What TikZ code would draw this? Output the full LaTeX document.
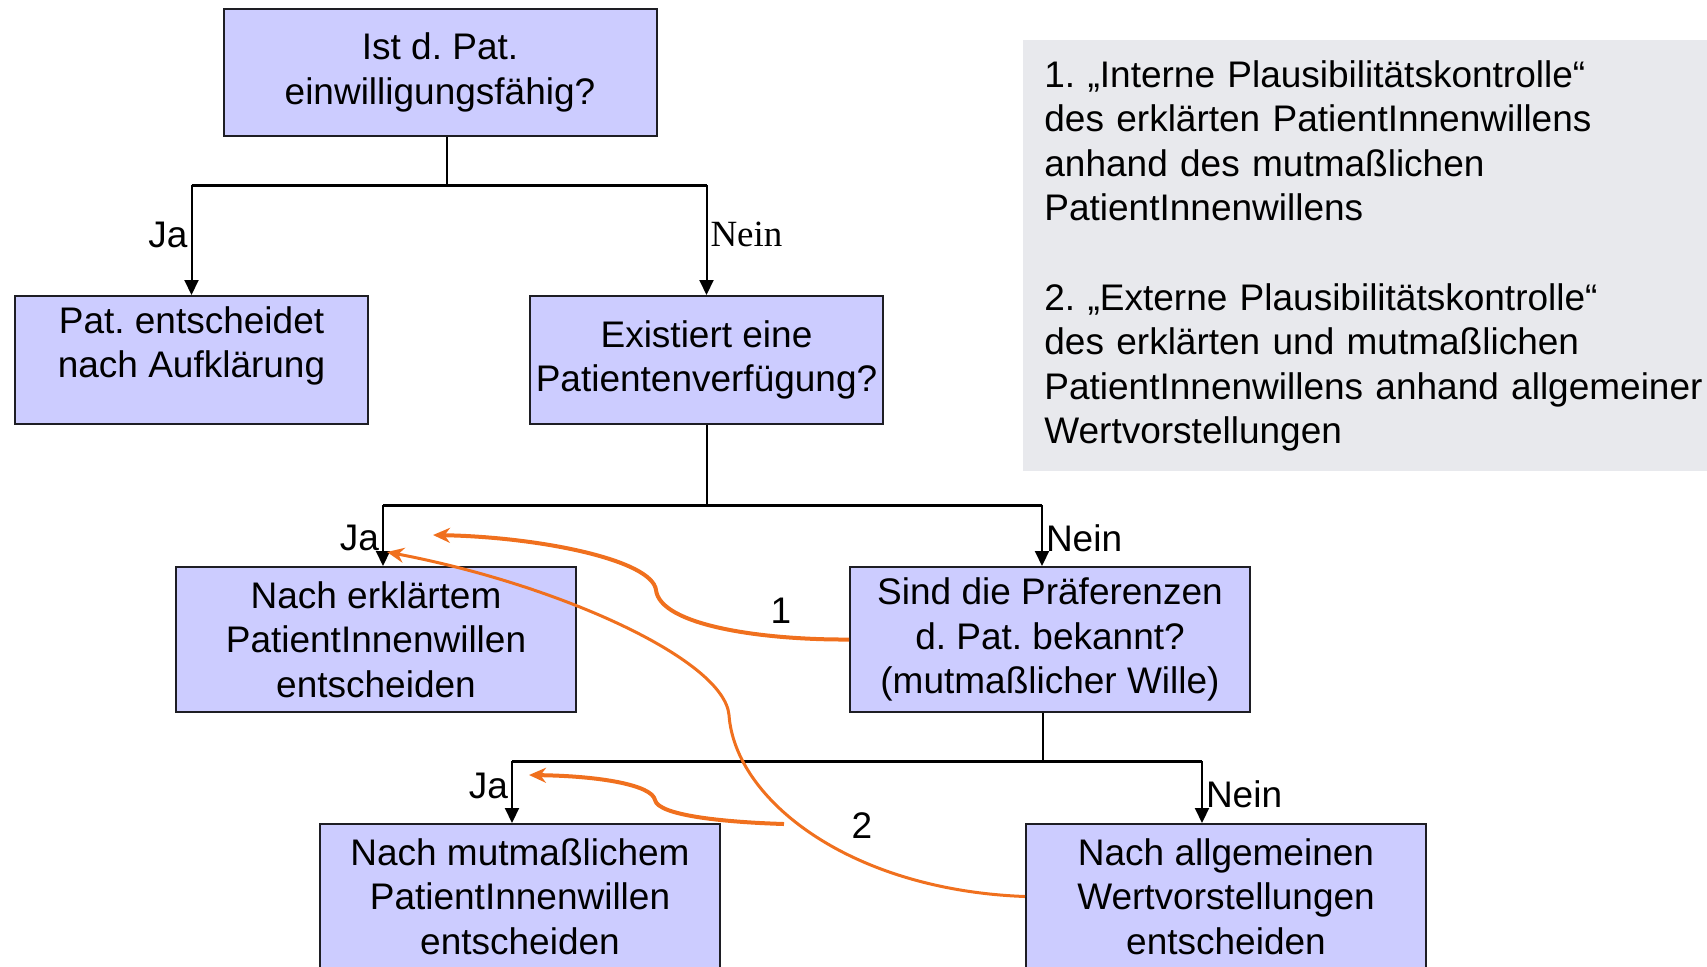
\documentclass[tikz,border=0pt]{standalone}
\usepackage{fontspec}
\setmainfont{Liberation Sans}
\newfontfamily\timesfont{Liberation Serif}
\usetikzlibrary{arrows.meta, positioning, calc}
\definecolor{Lila}{HTML}{CCCCFF}
\definecolor{Rahmen}{HTML}{1E1E24}
\definecolor{Grau}{HTML}{E8E9ED}
\definecolor{Orange}{HTML}{F0701E}
\frenchspacing

\begin{document}
\begin{tikzpicture}[
            x=0.5pt, y=0.5pt,
            font=\fontsize{18.5pt}{22.3pt}\selectfont,
            frage/.style={
                rectangle,
                draw=Rahmen,
                fill=Lila,
                line width=1pt,
                minimum width=200pt,
                minimum height=72.5pt,
                inner sep=1pt,
                align=center
            },
            hinweis/.style={
                rectangle,
                fill=Grau,
                minimum width=360pt,
                minimum height=215.5pt,
                text width=339pt,
                inner xsep=10.5pt,
                align=left,
                anchor=north west
            },
            linie/.style={line width=1pt},
            balken/.style={line width=1.5pt},
            pfeil/.style={-{Triangle[length=7.5pt, width=7pt]}, line width=1pt},
            kontrolle/.style={-{Stealth[length=8.5pt, width=7.5pt]}, line width=2pt, color=Orange},
            marke/.style={inner sep=1.5pt}
        ]
            \useasboundingbox (0,0) rectangle (1707,-966);
            \clip (0,0) rectangle (1707,-966);

            % Erlaeuterung rechts oben
            \node[hinweis] (legende) at (1023,-40) {1. „Interne Plausibilitätskontrolle“\\
                des erklärten PatientInnenwillens\\
                anhand des mutmaßlichen\\
                PatientInnenwillens\\[22.3pt]
                2. „Externe Plausibilitätskontrolle“\\
                des erklärten und mutmaßlichen\\
                PatientInnenwillens anhand allgemeiner\\
                Wertvorstellungen};

            % Entscheidungsbaum
            \node[frage, minimum width=216.5pt, minimum height=63.5pt] (einw) at (440,-72.5) {Ist d. Pat.\\einwilligungsfähig?};
            \node[frage, minimum width=176.5pt, minimum height=64pt] (aufkl) at (191.5,-360) {Pat. entscheidet\\nach Aufklärung\rule[-18pt]{0pt}{18pt}};
            \node[frage, minimum width=176.5pt, minimum height=64pt, right=80pt of aufkl] (patv) {Existiert eine\\Patientenverfügung?};
            \node[frage] (erkl) at (376,-639.5) {Nach erklärtem\\PatientInnenwillen\\entscheiden};
            \node[frage, right=136pt of erkl] (praef) {Sind die Präferenzen\\d. Pat. bekannt?\\(mutmaßlicher Wille)};
            \node[frage] (mutm) at (520,-896.5) {Nach mutmaßlichem\\PatientInnenwillen\\entscheiden};
            \node[frage, right=152pt of mutm] (allg) {Nach allgemeinen\\Wertvorstellungen\\entscheiden};

            % Verzweigungen
            \draw[linie] ([xshift=3.5pt]einw.south) -- ++(0,-48) coordinate (gabel1);
            \draw[balken] (aufkl.north |- gabel1) -- (patv.north |- gabel1);
            \draw[pfeil] (aufkl.north |- gabel1) -- node[marke, left, pos=0.45]{Ja} (aufkl.north);
            \draw[pfeil] (patv.north |- gabel1) -- node[marke, right, pos=0.45, font=\timesfont\fontsize{18.5pt}{22.3pt}\selectfont]{Nein} (patv.north);

            \coordinate (ja2) at ([xshift=3.5pt]erkl.north);
            \coordinate (nein2) at ([xshift=-4pt]praef.north);
            \draw[linie] (patv.south) -- ++(0,-80) coordinate (gabel2);
            \draw[balken] (ja2 |- gabel2) -- (nein2 |- gabel2);
            \draw[pfeil] (ja2 |- gabel2) -- node[marke, left, pos=0.54]{Ja} (ja2);
            \draw[pfeil] (nein2 |- gabel2) -- node[marke, right, pos=0.54]{Nein} (nein2);

            \coordinate (ja3) at ([xshift=-4pt]mutm.north);
            \coordinate (nein3) at ([xshift=-12pt]allg.north);
            \draw[linie] ([xshift=-3.5pt]praef.south) -- ++(0,-48) coordinate (gabel3);
            \draw[balken] (ja3 |- gabel3) -- (nein3 |- gabel3);
            \draw[pfeil] (ja3 |- gabel3) -- node[marke, left, pos=0.4]{Ja} (ja3);
            \draw[pfeil] (nein3 |- gabel3) -- node[marke, right, pos=0.53]{Nein} (nein3);

            % Plausibilitaetskontrollen
            \coordinate (ziel1) at (433,-535);
            \coordinate (ziel2) at (387,-552);
            \coordinate (quelle3) at (784,-824);
            \coordinate (ziel3) at (529,-775);
            \draw[kontrolle] (praef.west) .. controls (760,-640) and (660,-625) .. (656,-590)
                .. controls (652,-560) and (540,-537) .. (ziel1);
            \draw[kontrolle, line width=1.5pt] (allg.west) .. controls (850,-890) and (735,-800) .. (729,-715)
                .. controls (724,-660) and (560,-585) .. (ziel2);
            \draw[kontrolle] (quelle3) .. controls (720,-822) and (658,-815) .. (655,-800)
                .. controls (652,-785) and (600,-776) .. (ziel3);
            \node (eins) at (781,-611) {1};
            \node (zwei) at (862,-826) {2};
        \end{tikzpicture}
\end{document}
